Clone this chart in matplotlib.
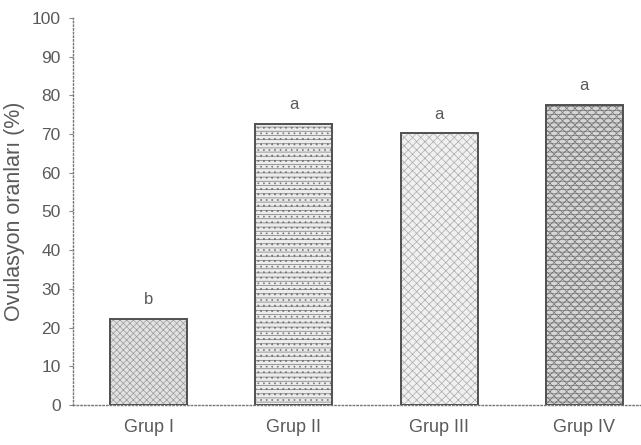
import matplotlib.pyplot as plt
import numpy as np

plt.rcParams['font.family'] = ['Liberation Sans', 'DejaVu Sans']
plt.rcParams['hatch.linewidth'] = 0.5

gruplar = ['Grup I', 'Grup II', 'Grup III', 'Grup IV']
oranlar = [22.3, 72.6, 70.2, 77.5]
harfler = ['b', 'a', 'a', 'a']
desenler = ['xxxxx', '----...', 'xxxx', '----xxxx']
dolgu = ['#e2e2e2', '#ececec', '#f0f0f0', '#d6d6d6']
desen_renk = ['#999999', '#777777', '#aaaaaa', '#777777']

gri = '#5a5a5a'

fig = plt.figure(figsize=(6.41, 4.45), dpi=100)
ax = fig.add_axes([0.114, 0.09, 0.886, 0.87])

x = np.arange(len(gruplar))
for i in range(len(gruplar)):
    ax.bar(x[i], oranlar[i], width=0.53, color=dolgu[i], edgecolor=desen_renk[i],
           hatch=desenler[i], linewidth=0, zorder=2)
    ax.bar(x[i], oranlar[i], width=0.53, fill=False, edgecolor='#505050',
           linewidth=1.4, zorder=3)
    ax.text(x[i], oranlar[i] + 3.0, harfler[i], ha='center', va='bottom',
            fontsize=12, color=gri)

ax.set_xlim(-0.52, 3.39)
ax.set_ylim(0, 100)
ax.set_yticks(range(0, 101, 10))
ax.set_xticks(x)
ax.set_xticklabels(gruplar, fontsize=13, color=gri)
ax.tick_params(axis='x', length=0, pad=10)
ax.tick_params(axis='y', length=3, color='#888888', labelcolor=gri, labelsize=12.5, pad=6)
ax.set_ylabel('Ovulasyon oranları (%)', fontsize=15.5, color=gri, labelpad=5)

for k in ['top', 'right']:
    ax.spines[k].set_visible(False)
for k in ['left', 'bottom']:
    ax.spines[k].set_linestyle(':')
    ax.spines[k].set_color('#777777')
    ax.spines[k].set_linewidth(1)

plt.savefig('out.png', dpi=100)
